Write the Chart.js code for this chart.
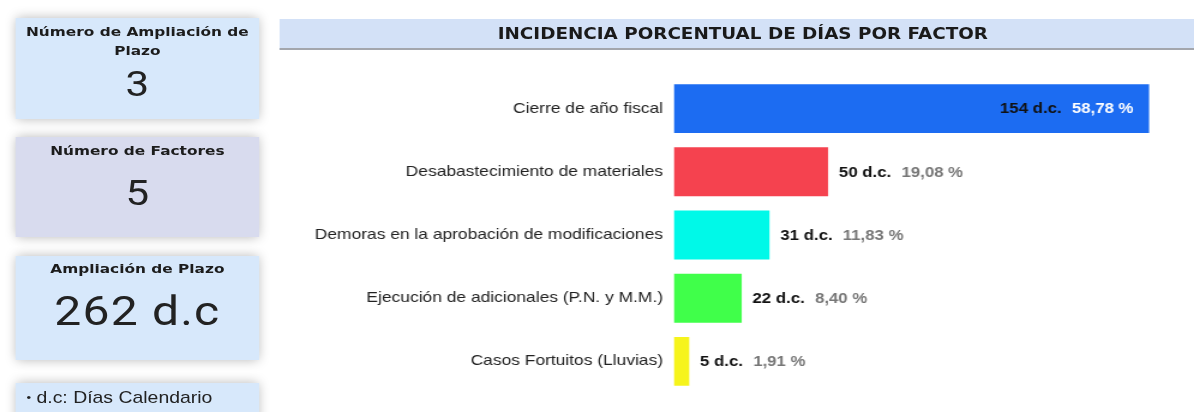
<!DOCTYPE html>
<html>
<head>
<meta charset="utf-8">
<script src="https://cdn.jsdelivr.net/npm/chart.js@4.4.1/dist/chart.umd.min.js"></script>
<style>
  body { margin: 0; width: 1194px; height: 412px; overflow: hidden; background: #fff; font-family: "Liberation Sans", Arial, sans-serif; }
  /* the dashboard is drawn 995px wide and stretched to 1194px like the screenshot */
  #page { position: relative; width: 995px; height: 412px; transform: scaleX(1.2); transform-origin: 0 0; }
  .card { position: absolute; left: 13px; width: 203px; box-shadow: 0 0 10px rgba(0,0,0,0.28); text-align: center; }
  .card .t { font-family: "DejaVu Sans", sans-serif; font-weight: bold; font-size: 12.8px; line-height: 18.5px; color: #1c1c1c; }
  .card .v { font-family: Roboto, sans-serif; color: #222; }
  #c1 { top: 18px; height: 101px; background: #d7e8fb; }
  #c2 { top: 137px; height: 100px; background: #d8dbee; }
  #c3 { top: 256px; height: 104px; background: #d7e8fb; }
  #c4 { top: 383px; height: 40px; background: #d7e8fb; text-align: left; }
  #c4 .b { font-size: 11px; position: relative; top: -2px; }
  #header { position: absolute; left: 233px; top: 19px; width: 762px; height: 29px; background: #d3e1f7; border-bottom: 2px solid #a3a6ad; text-align: center; font-family: "DejaVu Sans", sans-serif; font-weight: bold; font-size: 15.3px; line-height: 30px; color: #1a1a1a; }
  #header span { position: relative; left: 5px; }
  #wrap { position: absolute; left: 233px; top: 52px; width: 762px; height: 360px; }
</style>
</head>
<body>
<div id="page">
<div class="card" id="c1">
  <div class="t" style="padding-top:5px">Número de Ampliación de<br>Plazo</div>
  <div class="v" style="font-size:35px; line-height:50px">3</div>
</div>
<div class="card" id="c2">
  <div class="t" style="padding-top:5px">Número de Factores</div>
  <div class="v" style="font-size:35px; line-height:66px">5</div>
</div>
<div class="card" id="c3">
  <div class="t" style="padding-top:4px">Ampliación de Plazo</div>
  <div class="v" style="font-size:40px; line-height:66px; letter-spacing:1px">262 d.c</div>
</div>
<div class="card" id="c4">
  <div style="font-size:16.2px; line-height:28px; padding-left:9px; color:#222"><span class="b">•</span> d.c: Días Calendario</div>
</div>
<div id="header"><span>INCIDENCIA PORCENTUAL DE DÍAS POR FACTOR</span></div>
<div id="wrap"><canvas id="chart"></canvas></div>
</div>
<script>
const factores = [
    'Cierre de año fiscal',
    'Desabastecimiento de materiales',
    'Demoras en la aprobación de modificaciones',
    'Ejecución de adicionales (P.N. y M.M.)',
    'Casos Fortuitos (Lluvias)'
];
const dias = [154, 50, 31, 22, 5];
const porcentajes = ['58,78', '19,08', '11,83', '8,40', '1,91'];
const colores = ['#1c6cf2', '#f5424f', '#00f9e8', '#40ff4a', '#f6f41c'];

// labels "N d.c.  xx,xx %" next to each bar (inside the longest one)
const valueLabels = {
    id: 'valueLabels',
    afterDatasetsDraw(chart) {
        const ctx = chart.ctx;
        const meta = chart.getDatasetMeta(0);
        ctx.save();
        ctx.font = 'bold 14px "Liberation Sans", Arial, sans-serif';
        ctx.textBaseline = 'middle';
        ctx.textAlign = 'left';
        meta.data.forEach((bar, i) => {
            const a = dias[i] + ' d.c.';
            const b = porcentajes[i] + ' %';
            const gap = 8.5;
            const wa = ctx.measureText(a).width;
            const wb = ctx.measureText(b).width;
            const inside = (bar.x - bar.base) > chart.chartArea.width * 0.6;
            const x = inside ? bar.x - 13 - wb - gap - wa : bar.x + 9;
            ctx.fillStyle = '#111';
            ctx.fillText(a, x, bar.y + 1);
            ctx.fillStyle = inside ? '#ffffff' : '#777';
            ctx.fillText(b, x + wa + gap, bar.y + 1);
        });
        ctx.restore();
    }
};

new Chart(document.getElementById('chart').getContext('2d'), {
    type: 'bar',
    data: {
        labels: factores,
        datasets: [{
            data: dias,
            backgroundColor: colores,
            borderWidth: 0,
            barPercentage: 0.9,
            categoryPercentage: 0.86
        }]
    },
    options: {
        indexAxis: 'y',
        responsive: true,
        maintainAspectRatio: false,
        animation: false,
        layout: { padding: { top: 25, bottom: 19, right: 22 } },
        scales: {
            x: { display: false, min: 0, max: 160 },
            y: {
                afterFit: (scale) => { scale.width = 328.5; },
                grid: { display: false, drawTicks: false },
                border: { display: false },
                ticks: {
                    padding: 9,
                    color: '#222',
                    font: { family: '"Liberation Sans", Arial, sans-serif', size: 14.5 }
                }
            }
        },
        plugins: {
            legend: { display: false },
            tooltip: { enabled: false }
        }
    },
    plugins: [valueLabels]
});
</script>
</body>
</html>
